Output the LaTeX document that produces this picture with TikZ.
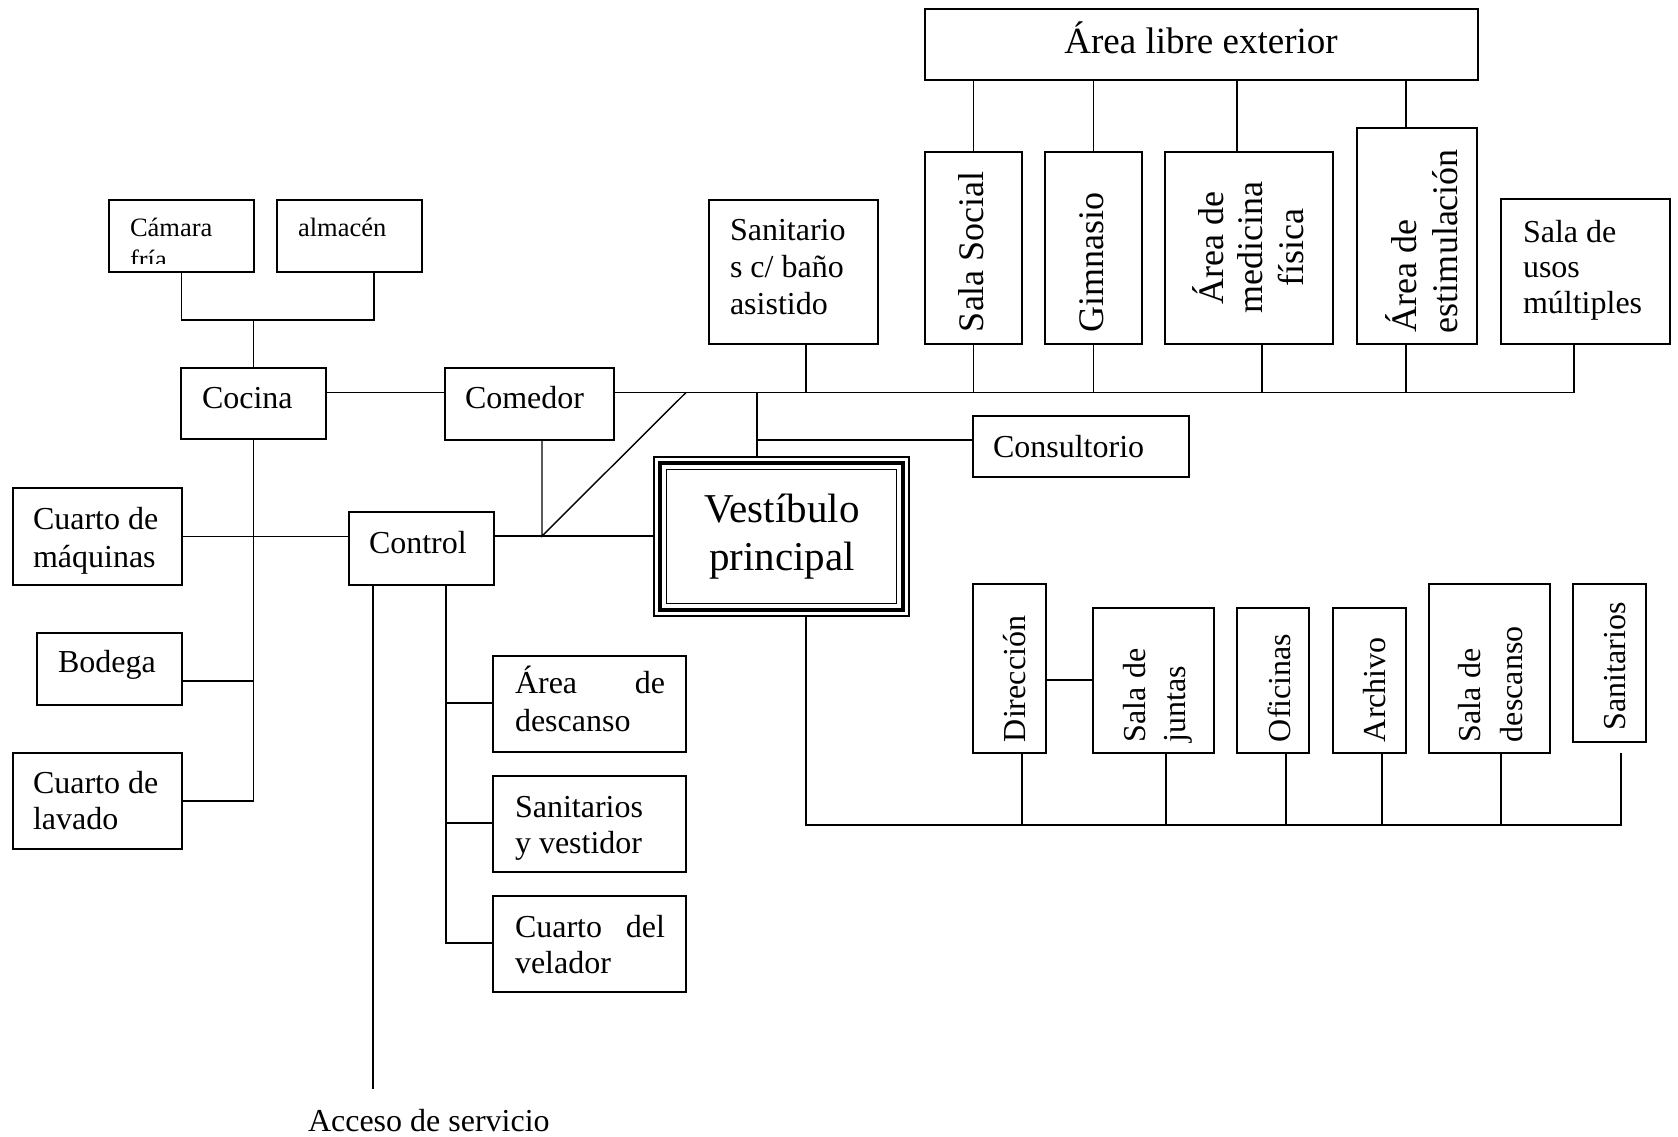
\documentclass[tikz,border=0pt]{standalone}
\usepackage{fontspec}
\setmainfont{Liberation Serif}
\usetikzlibrary{calc}
\newcommand{\fsz}[1]{\fontsize{#1}{#1}\selectfont}
\newcommand{\bx}[5]{\node[box, minimum width={(#4-#2)*1pt}, minimum height={(#5-#3)*1pt}] (#1) at (#2,#3) {};}
\begin{document}
\begin{tikzpicture}[x=1pt,y=-1pt,
  box/.style={draw, line width=1.4pt, inner sep=0pt, outer sep=0pt, anchor=north west},
  txt/.style={inner sep=0pt, outer sep=0pt, anchor=base west},
  ctxt/.style={inner sep=0pt, outer sep=0pt, anchor=base},
  vtxt/.style={inner sep=0pt, outer sep=0pt, anchor=base west, rotate=90},
  vctxt/.style={inner sep=0pt, outer sep=0pt, anchor=base, rotate=90},
  ln/.style={line width=1.4pt},
  fsmall/.style={font=\fsz{26.5}},
  fnorm/.style={font=\fsz{32}},
  fbig/.style={font=\fsz{36}}]
\fill[white] (0,0) rectangle (1678,1136);
\useasboundingbox (0,0) rectangle (1678,1136);

% boxes
\bx{camara}{109}{200}{254}{272}
\bx{almacen}{277}{200}{422}{272}
\bx{cocina}{181}{368}{326}{439}
\bx{comedor}{445}{368}{614}{440}
\bx{maquinas}{13}{488}{182}{585}
\bx{control}{349}{512}{494}{585}
\bx{bodega}{37}{633}{182}{705}
\bx{lavado}{13}{753}{182}{849}
\bx{descanso}{493}{656}{686}{752}
\bx{vestidor}{493}{776}{686}{872}
\bx{velador}{493}{896}{686}{992}
\bx{vest}{654}{457}{909}{616}
\bx{consultorio}{973}{416}{1189}{477}
\bx{sanbano}{709}{200}{878}{344}
\bx{libre}{925}{9}{1478}{80}
\bx{social}{925}{152}{1022}{344}
\bx{gimnasio}{1045}{152}{1142}{344}
\bx{medicina}{1165}{152}{1333}{344}
\bx{estim}{1357}{128}{1477}{344}
\bx{usos}{1501}{199}{1670}{344}
\bx{direccion}{973}{584}{1046}{753}
\bx{juntas}{1093}{608}{1214}{753}
\bx{oficinas}{1237}{608}{1309}{753}
\bx{archivo}{1333}{608}{1406}{753}
\bx{saladesc}{1429}{584}{1550}{753}
\bx{sanit}{1573}{584}{1646}{742}

% triple border of the vestibule
\draw[line width=4.5pt] ($(vest.north west)+(6,6)$) rectangle ($(vest.south east)+(-6,-6)$);
\draw[ln] ($(vest.north west)+(12.5,12.5)$) rectangle ($(vest.south east)+(-12.5,-12.5)$);

% junction coordinates
\coordinate (ja) at (374,320);
\coordinate (jk) at (253.5,320);
\coordinate (r1) at (0,392.5);
\coordinate (rend) at (1574,392.5);
\coordinate (rsb) at (806,392.5);
\coordinate (rmed) at (1262,392.5);
\coordinate (rest) at (1406,392.5);
\coordinate (tmed) at (1237,80);
\coordinate (jd) at (542,536);
\coordinate (jt) at (686,392.5);
\coordinate (rv) at (757,392.5);
\coordinate (jc) at (757,440);
\coordinate (jb) at (253.5,681);
\coordinate (acc) at (373,1089);
\coordinate (cd) at (446,703);
\coordinate (cs) at (446,823);
\coordinate (cv) at (446,943);
\coordinate (vb) at (806,825);
\coordinate (bend) at (1621,825);
\coordinate (sanb) at (1621,753);
\coordinate (bd) at (1022,825);
\coordinate (bj) at (1166,825);
\coordinate (bo) at (1286,825);
\coordinate (ba) at (1382,825);
\coordinate (bs) at (1501,825);
\coordinate (dj) at (1046,680);

% connectors
\draw[ln] (camara.south) |- (ja) -- (ja |- almacen.south);
\draw[ln] (jk) -- (cocina.north);
\draw[ln] (cocina.east |- r1) -- (comedor.west |- r1);
\draw[ln] (comedor.east |- r1) -- (rend);
\draw[ln] (rend) -- (rend |- usos.south);
\draw[ln] (rsb) -- (rsb |- sanbano.south);
\draw[ln] (social.south) -- (social.south |- r1);
\draw[ln] (gimnasio.south) -- (gimnasio.south |- r1);
\draw[ln] (rmed) -- (rmed |- medicina.south);
\draw[ln] (rest) -- (rest |- estim.south);
\draw[ln] (social.north) -- (social.north |- libre.south);
\draw[ln] (gimnasio.north) -- (gimnasio.north |- libre.south);
\draw[ln] (tmed) -- (tmed |- medicina.north);
\draw[ln] (rest |- libre.south) -- (rest |- estim.north);
\draw[ln] (comedor.south -| jd) -- (jd) -- (jt);
\draw[ln] (maquinas.east) -- (maquinas.east -| control.west);
\draw[ln] (control.east |- jd) -- (vest.west |- jd);
\draw[ln] (rv) -- (rv |- vest.north);
\draw[ln] (jc) -- (jc -| consultorio.west);
\draw[ln] (cocina.south) |- (lavado.east);
\draw[ln] (jb) -- (jb -| bodega.east);
\draw[ln] (acc |- control.south) -- (acc);
\draw[ln] (cv |- control.south) -- (cv) -- (cv -| velador.west);
\draw[ln] (cd) -- (cd -| descanso.west);
\draw[ln] (cs) -- (cs -| vestidor.west);
\draw[ln] (vb |- vest.south) -- (vb) -- (bend) -- (sanb);
\draw[ln] (bd) -- (bd |- direccion.south);
\draw[ln] (bj) -- (bj |- juntas.south);
\draw[ln] (bo) -- (bo |- oficinas.south);
\draw[ln] (ba) -- (ba |- archivo.south);
\draw[ln] (bs) -- (bs |- saladesc.south);
\draw[ln] (dj) -- (dj -| juntas.west);

% texts
\node[txt, fsmall] (t-camara) at (130,236) {Cámara};
\begin{scope}
\clip (110,200) rectangle (254,263);
\node[txt, fsmall] (t-fria) at (130,268) {fría};
\end{scope}
\node[txt, fsmall] (t-almacen) at (298,236) {almacén};
\node[txt, fnorm] (t-cocina) at (202,408) {Cocina};
\node[txt, fnorm] (t-comedor) at (465,408) {Comedor};
\node[txt, fnorm] (t-maq1) at (33,529) {Cuarto de};
\node[txt, fnorm] (t-maq2) at (33,567) {máquinas};
\node[txt, fnorm] (t-control) at (369,553) {Control};
\node[txt, fnorm] (t-bodega) at (58,672) {Bodega};
\node[txt, fnorm] (t-lav1) at (33,793) {Cuarto de};
\node[txt, fnorm] (t-lav2) at (33,829) {lavado};
\node[txt, fnorm] (t-desc1) at (515,693) {\hbox to 150pt{Área\hfill de}};
\node[txt, fnorm] (t-desc2) at (515,731) {descanso};
\node[txt, fnorm] (t-vestid1) at (515,817) {Sanitarios};
\node[txt, fnorm] (t-vestid2) at (515,853) {y vestidor};
\node[txt, fnorm] (t-vel1) at (515,937) {\hbox to 150pt{Cuarto\hfill del}};
\node[txt, fnorm] (t-vel2) at (515,973) {velador};
\node[txt, fnorm] (t-acceso) at (308,1131) {Acceso de servicio};
\node[txt, fnorm] (t-consult) at (993,457) {Consultorio};
\node[ctxt, font=\fsz{41}] (t-vest1) at (782,522) {Vestíbulo};
\node[ctxt, font=\fsz{41}] (t-vest2) at (782,570) {principal};
\node[ctxt, font=\fsz{37}] (t-libre) at (1201,53) {Área libre exterior};
\node[txt, fnorm] (t-sb1) at (730,240) {Sanitario};
\node[txt, fnorm] (t-sb2) at (730,277) {s c/ baño};
\node[txt, fnorm] (t-sb3) at (730,314) {asistido};
\node[txt, fnorm] (t-usos1) at (1523,242) {Sala de};
\node[txt, fnorm] (t-usos2) at (1523,277) {usos};
\node[txt, fnorm] (t-usos3) at (1523,313) {múltiples};
\node[vtxt, fbig] (t-social) at (983,332) {Sala Social};
\node[vtxt, fbig] (t-gim) at (1103,332) {Gimnasio};
\node[vctxt, fbig] (t-med1) at (1223,248) {Área de};
\node[vctxt, fbig] (t-med2) at (1262,248) {medicina};
\node[vctxt, fbig] (t-med3) at (1303,248) {física};
\node[vtxt, fbig] (t-est1) at (1416,332) {Área de};
\node[vtxt, fbig] (t-est2) at (1457,333) {estimulación};
\node[vtxt, fnorm] (t-dir) at (1025,742) {Dirección};
\node[vtxt, fnorm] (t-jun1) at (1145,742) {Sala de};
\node[vtxt, fnorm] (t-jun2) at (1185,742) {juntas};
\node[vtxt, fnorm] (t-ofi) at (1290,742) {Oficinas};
\node[vtxt, fnorm] (t-arch) at (1385,742) {Archivo};
\node[vtxt, fnorm] (t-sd1) at (1480,742) {Sala de};
\node[vtxt, fnorm] (t-sd2) at (1522,742) {descanso};
\node[vtxt, fnorm] (t-san) at (1625,730) {Sanitarios};
\end{tikzpicture}
\end{document}
